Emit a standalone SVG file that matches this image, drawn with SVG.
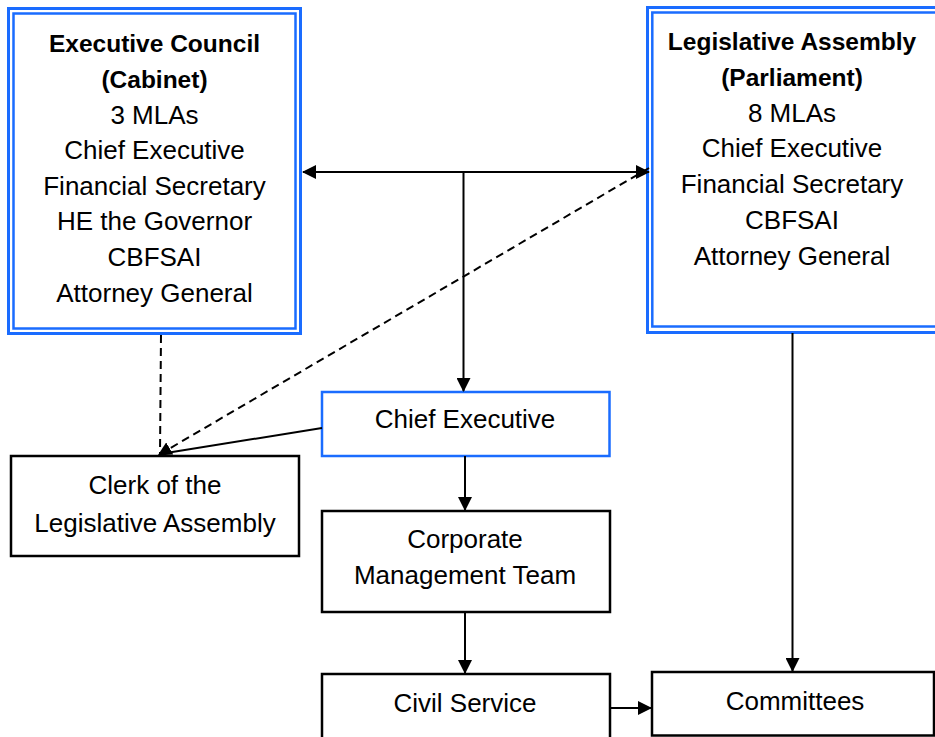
<svg xmlns="http://www.w3.org/2000/svg" width="935" height="737" viewBox="0 0 935 737">
<style>
text{font-family:"Liberation Sans",Arial,sans-serif;font-size:26px;fill:#000;text-anchor:middle}
.b{font-weight:bold;font-size:24.5px}
.blue{fill:#fff;stroke:#1a6cff}
.box{fill:#fff;stroke:#000;stroke-width:2.5}
.ln{stroke:#000;stroke-width:2;fill:none}
.dash{stroke:#000;stroke-width:2;fill:none;stroke-dasharray:8 5}
</style>
<defs>
<marker id="ah" viewBox="0 0 14 14" refX="13" refY="7" markerWidth="14" markerHeight="14" markerUnits="userSpaceOnUse" orient="auto-start-reverse">
<path d="M0,0 L14,7 L0,14 Z" fill="#000"/>
</marker>
</defs>
<rect width="935" height="737" fill="#fff"/>
<g id="exec-council">
<rect class="blue" x="8.5" y="8.5" width="292" height="325" stroke-width="3"/>
<rect class="blue" x="13.5" y="13.5" width="282" height="315" stroke-width="2.5"/>
<text class="b" x="154.5" y="52.3">Executive Council</text>
<text class="b" x="154.5" y="87.9">(Cabinet)</text>
<text x="154.5" y="123.5">3 MLAs</text>
<text x="154.5" y="159.1">Chief Executive</text>
<text x="154.5" y="194.7">Financial Secretary</text>
<text x="154.5" y="230.3">HE the Governor</text>
<text x="154.5" y="265.9">CBFSAI</text>
<text x="154.5" y="301.5">Attorney General</text>
</g>
<g id="leg-assembly">
<rect class="blue" x="647.5" y="7.5" width="300" height="325" stroke-width="3"/>
<rect class="blue" x="652.3" y="12.5" width="290" height="314" stroke-width="2.5"/>
<text class="b" x="792" y="50">Legislative Assembly</text>
<text class="b" x="792" y="85.8">(Parliament)</text>
<text x="792" y="121.6">8 MLAs</text>
<text x="792" y="157.4">Chief Executive</text>
<text x="792" y="193.2">Financial Secretary</text>
<text x="792" y="229">CBFSAI</text>
<text x="792" y="264.8">Attorney General</text>
</g>
<g id="chief-exec">
<rect class="blue" x="322" y="392" width="287.5" height="64" stroke-width="2.5"/>
<text x="465" y="428">Chief Executive</text>
</g>
<g id="clerk">
<rect class="box" x="11" y="456" width="288" height="100"/>
<text x="155" y="494">Clerk of the</text>
<text x="155" y="531.5">Legislative Assembly</text>
</g>
<g id="cmt">
<rect class="box" x="322" y="511" width="288" height="101"/>
<text x="465" y="548">Corporate</text>
<text x="465" y="584">Management Team</text>
</g>
<g id="civil">
<rect class="box" x="322" y="674" width="288" height="80"/>
<text x="465" y="711.5">Civil Service</text>
</g>
<g id="committees">
<rect class="box" x="652" y="672" width="282" height="63.5"/>
<text x="795" y="710">Committees</text>
</g>
<g id="connectors">
<line class="ln" x1="303" y1="172" x2="649" y2="172" marker-start="url(#ah)" marker-end="url(#ah)"/>
<line class="ln" x1="463.5" y1="172" x2="463.5" y2="391" marker-end="url(#ah)"/>
<line class="dash" x1="649" y1="168" x2="158.5" y2="455" marker-end="url(#ah)"/>
<line class="dash" x1="161" y1="335" x2="160" y2="454"/>
<line class="ln" x1="322" y1="428" x2="160" y2="454"/>
<line class="ln" x1="465" y1="456" x2="465" y2="510" marker-end="url(#ah)"/>
<line class="ln" x1="465" y1="612" x2="465" y2="673" marker-end="url(#ah)"/>
<line class="ln" x1="792.5" y1="333" x2="792.5" y2="671" marker-end="url(#ah)"/>
<line class="ln" x1="610" y1="708" x2="651" y2="708" marker-end="url(#ah)"/>
</g>
</svg>
